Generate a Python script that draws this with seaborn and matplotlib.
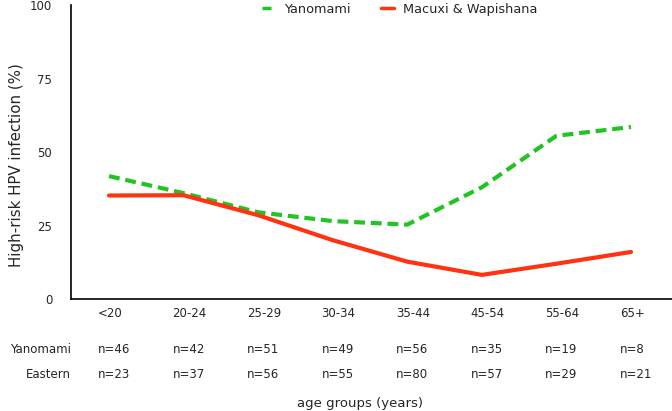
import numpy as np
import pandas as pd
import matplotlib
matplotlib.use('Agg')
import matplotlib.pyplot as plt
import seaborn as sns

# --- dados ---
age_groups = ['<20', '20-24', '25-29', '30-34', '35-44', '45-54', '55-64', '65+']
yanomami = [41.8, 36.0, 29.5, 26.5, 25.3, 38.0, 55.5, 58.5]
macuxi = [35.2, 35.3, 28.5, 20.0, 12.7, 8.2, 12.0, 16.0]
n_yanomami = [46, 42, 51, 49, 56, 35, 19, 8]
n_eastern = [23, 37, 56, 55, 80, 57, 29, 21]

df = pd.DataFrame({
    'pos': list(range(len(age_groups))) * 2,
    'value': yanomami + macuxi,
    'group': ['Yanomami'] * len(age_groups) + ['Macuxi & Wapishana'] * len(age_groups),
})

sns.set_style('white')
plt.rcParams['font.family'] = ['DejaVu Sans']

W, H = 672, 411
fig = plt.figure(figsize=(W / 100, H / 100), dpi=100)
# eixo em pixels: esquerda 71, direita 672, topo 5, base 299
ax = fig.add_axes([71 / W, 1 - 299 / H, 601 / W, 294 / H])


def px(x, y):
    return x / W, 1 - y / H


cores = {'Yanomami': '#22C422', 'Macuxi & Wapishana': '#FF3311'}
sns.lineplot(data=df, x='pos', y='value', hue='group', palette=cores,
             style='group', dashes={'Yanomami': (2.6, 1.4), 'Macuxi & Wapishana': ''},
             linewidth=3.0, ax=ax, legend=True)

ax.set_xlim(-0.51, 7.55)
ax.set_ylim(0, 100)
ax.set_yticks([0, 25, 50, 75, 100])
ax.tick_params(axis='y', length=0, labelsize=8.5, pad=13.5)
ax.set_xticks([])
ax.set_xlabel('')
ax.set_ylabel('')
ax.spines[['right', 'top']].set_visible(False)
for s in ['left', 'bottom']:
    ax.spines[s].set_color('black')
    ax.spines[s].set_linewidth(1.2)

fig.text(*px(17, 165), 'High-risk HPV infection (%)', rotation=90,
         ha='center', va='center', fontsize=10.8)

# rótulos de categoria e tabela de n
trans = ax.get_xaxis_transform()
linhas = [(313, age_groups),
          (349, [f'n={v}' for v in n_yanomami]),
          (374, [f'n={v}' for v in n_eastern])]
for ypx, textos in linhas:
    yfrac = -(ypx - 299) / 294
    for i, t in enumerate(textos):
        ax.text(i - 0.15, yfrac, t, transform=trans, ha='left', va='center', fontsize=8.5)
fig.text(*px(71, 349), 'Yanomami', ha='right', va='center', fontsize=8.5)
fig.text(*px(71, 374), 'Eastern', ha='right', va='center', fontsize=8.5)
fig.text(*px(360, 403), 'age groups (years)', ha='center', va='center', fontsize=9.5)

leg = ax.legend(loc='center', bbox_to_anchor=(0.547, 0.985), ncol=2, frameon=False,
                fontsize=9.3, handlelength=1.0, handletextpad=0.7, columnspacing=2.3,
                borderpad=0)
for line in leg.get_lines():
    line.set_linewidth(2.5)

fig.savefig('out.png', dpi=100)
